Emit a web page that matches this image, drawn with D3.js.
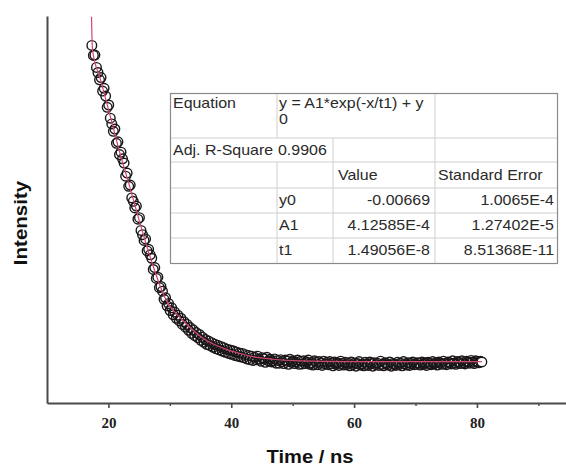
<!DOCTYPE html>
<html>
<head>
<meta charset="utf-8">
<script src="https://cdn.jsdelivr.net/npm/d3@7"></script>
<style>
  html, body { margin: 0; padding: 0; background: #fff; }
  svg { display: block; }
</style>
</head>
<body>
<svg id="chart" width="566" height="466"></svg>
<script>
// Fluorescence decay: measured counts (arbitrary units) per time channel
const timeStart = 17.3;      // ns, first channel shown
const channelWidth = 0.25;   // ns per channel
const intensity = [
  92.4, 89.8, 89.9, 86.7, 85.4, 83.5, 84.1, 80.6, 81.3, 79.3,
  76.4, 77.0, 73.6, 72.1, 70.2, 70.8, 67.1, 67.5, 64.2, 64.8,
  63.1, 62.0, 58.6, 59.4, 56.0, 56.3, 53.0, 52.1, 50.4, 50.9,
  47.5, 47.9, 44.6, 43.5, 42.0, 42.4, 39.3, 39.7, 38.3, 37.4,
  34.5, 35.0, 32.2, 32.5, 29.8, 30.1, 28.9, 26.8, 27.2, 25.1,
  25.7, 23.9, 24.6, 22.8, 23.5, 21.9, 22.7, 21.2, 21.9, 20.3,
  21.0, 19.6, 20.3, 18.8, 19.5, 18.0, 18.9, 17.4, 18.2, 16.9,
  17.7, 16.2, 17.0, 15.7, 16.4, 15.1, 16.0, 14.8, 15.6, 14.4,
  15.2, 14.0, 14.9, 13.7, 14.6, 13.4, 14.3, 13.1, 13.9, 12.8,
  13.7, 12.6, 13.5, 12.3, 13.2, 12.1, 12.9, 11.9, 12.8, 11.7,
  12.5, 11.4, 12.3, 11.2, 12.1, 11.0, 11.8, 11.2, 12.1, 11.3,
  10.8, 11.7, 11.4, 10.5, 11.8, 10.9, 11.3, 10.6, 10.9, 11.4,
  10.3, 11.0, 10.3, 11.2, 10.7, 10.2, 11.1, 10.8, 10.0, 11.3,
  10.5, 10.9, 10.2, 10.6, 11.1, 10.0, 10.8, 10.1, 10.9, 10.2,
  10.6, 11.1, 10.0, 10.4, 9.8, 10.9, 10.5, 9.9, 10.7, 10.3,
  9.7, 10.8, 10.1, 10.5, 9.9, 10.7, 10.2, 9.6, 10.6, 10.0,
  10.4, 9.7, 10.8, 10.2, 9.8, 10.5, 9.9, 10.3, 9.6,
  10.6, 9.9, 10.3, 9.5, 10.2, 10.7, 9.8, 10.1, 9.6, 10.5,
  10.0, 9.7, 10.6, 10.2, 9.5, 10.4, 9.9, 10.3, 9.7, 10.8,
  10.0, 9.6, 10.4, 10.1, 9.8, 10.6, 9.5, 10.2, 10.0, 9.7,
  10.5, 9.9, 10.3, 9.6, 10.7, 10.1, 9.8, 10.4, 9.7, 10.2,
  10.6, 9.9, 10.0, 10.4,
  10.3, 9.8, 10.6, 10.0, 10.4, 9.7, 10.5, 10.2, 9.9, 10.7,
  10.1, 10.4, 9.8, 10.6, 10.3, 10.0, 10.8, 10.2, 9.9, 10.6,
  10.4, 10.1, 10.9, 10.3, 10.0, 10.7, 10.5, 10.2, 10.9, 10.4,
  10.1, 10.8, 10.6, 10.3, 11.0, 10.5, 10.2, 10.9, 10.7, 10.4,
  10.8, 10.6
];

// Exponential fit curve, sampled
const fitTime  = [17.25, 17.4, 18.63, 20.26, 21.56, 23.52, 25.15, 26.29, 27.26, 28.4,
                  29.54, 30.85, 32.15, 33.78, 35.73, 37.69, 39.32, 41.43, 43.06, 46.81,
                  51.21, 59.35, 70.26, 80.8];
const fitValue = [99.8, 91.3, 84.0, 74.4, 66.4, 55.6, 46.4, 40.3, 35.5, 30.3,
                  26.2, 23.4, 21.3, 18.8, 16.4, 14.8, 13.8, 12.8, 12.1, 11.3,
                  10.9, 10.7, 10.7, 10.7];

// Axis ticks
const majorTicks = [20, 40, 60, 80];
const minorTicks = [30, 50, 70, 90];

// Fit report table
const equationLines = ["y = A1*exp(-x/t1) + y", "0"];
const adjRSquare = "0.9906";
const tableHeader = ["Value", "Standard Error"];
const paramNames = ["y0", "A1", "t1"];
const paramValues = ["-0.00669", "4.12585E-4", "1.49056E-8"];
const paramErrors = ["1.0065E-4", "1.27402E-5", "8.51368E-11"];

const svg = d3.select("#chart");

const x = d3.scaleLinear().domain([10, 94.5]).range([47, 566]);
const y = d3.scaleLinear().domain([0, 100]).range([403, 16]);

const axisColor = "#4a4a4a";

// Bottom axis: major ticks with labels, minor ticks without
const gx = svg.append("g").attr("transform", "translate(0,403)");
gx.call(d3.axisBottom(x).tickValues(majorTicks).tickSize(5).tickSizeOuter(0).tickPadding(9));
gx.select(".domain").attr("stroke", axisColor).attr("stroke-width", 2);
gx.selectAll(".tick line").attr("stroke", axisColor).attr("stroke-width", 1.6);
gx.selectAll(".tick text")
  .attr("fill", "#222")
  .style("font-family", "'Liberation Serif', 'Times New Roman', serif")
  .style("font-weight", "bold")
  .style("font-size", "15px");

const gxm = svg.append("g").attr("transform", "translate(0,403)");
gxm.call(d3.axisBottom(x).tickValues(minorTicks).tickSize(3).tickSizeOuter(0).tickFormat(""));
gxm.select(".domain").remove();
gxm.selectAll(".tick line").attr("stroke", axisColor).attr("stroke-width", 1.4);

// Left axis: line only
const gy = svg.append("g").attr("transform", "translate(47,0)");
gy.call(d3.axisLeft(y).tickValues([]).tickSizeOuter(0));
gy.select(".domain").attr("stroke", axisColor).attr("stroke-width", 2);

// Axis titles
svg.append("text")
  .attr("transform", "translate(310,463) scale(1.12,1)")
  .attr("text-anchor", "middle")
  .attr("fill", "#111")
  .style("font-family", "'Liberation Sans', Arial, sans-serif")
  .style("font-weight", "bold")
  .style("font-size", "18px")
  .text("Time / ns");

svg.append("text")
  .attr("transform", "translate(27,223) rotate(-90) scale(1.14,1)")
  .attr("text-anchor", "middle")
  .attr("fill", "#111")
  .style("font-family", "'Liberation Sans', Arial, sans-serif")
  .style("font-weight", "bold")
  .style("font-size", "18px")
  .text("Intensity");

// Measured points: open circles
const points = intensity.map((v, i) => ({ t: timeStart + i * channelWidth, v }));
svg.append("g")
  .selectAll("circle")
  .data(points)
  .join("circle")
  .attr("cx", d => x(d.t))
  .attr("cy", d => y(d.v))
  .attr("r", 4.8)
  .attr("fill", (d, i) => i === points.length - 1 ? "#fff" : "none")
  .attr("stroke", "#1a1618")
  .attr("stroke-width", 1.4);

// Fit curve
const fitData = fitTime.map((t, i) => ({ t, v: fitValue[i] }));
svg.append("path")
  .datum(fitData)
  .attr("fill", "none")
  .attr("stroke", "#d0486e")
  .attr("stroke-width", 1.2)
  .attr("d", d3.line().x(d => x(d.t)).y(d => y(d.v)).curve(d3.curveMonotoneX));

// Fit report table
const tbl = svg.append("g");
const colX = [170, 277, 333, 435, 557];
const rowY = [93, 138, 162, 188, 213, 238, 263];
const gridColor = "#cfcfcf";

tbl.append("rect")
  .attr("x", colX[0]).attr("y", rowY[0])
  .attr("width", colX[4] - colX[0]).attr("height", rowY[6] - rowY[0])
  .attr("fill", "#fff");

// horizontal rules
tbl.selectAll("line.h")
  .data(rowY.slice(1, 6))
  .join("line")
  .attr("x1", colX[0]).attr("x2", colX[4])
  .attr("y1", d => d).attr("y2", d => d)
  .attr("stroke", gridColor).attr("stroke-width", 1);

// vertical rules (segments per column)
const vSegments = [
  { x: colX[1], y1: rowY[0], y2: rowY[1] },
  { x: colX[1], y1: rowY[2], y2: rowY[6] },
  { x: colX[2], y1: rowY[1], y2: rowY[6] },
  { x: colX[3], y1: rowY[0], y2: rowY[6] }
];
tbl.selectAll("line.v")
  .data(vSegments)
  .join("line")
  .attr("x1", d => d.x).attr("x2", d => d.x)
  .attr("y1", d => d.y1).attr("y2", d => d.y2)
  .attr("stroke", gridColor).attr("stroke-width", 1);

tbl.append("rect")
  .attr("x", colX[0] + 0.5).attr("y", rowY[0] + 0.5)
  .attr("width", colX[4] - colX[0]).attr("height", rowY[6] - rowY[0])
  .attr("fill", "none")
  .attr("stroke", "#8a8a8a").attr("stroke-width", 1.2);

function cell(text, px, py, anchor) {
  tbl.append("text")
    .attr("transform", `translate(${px},${py}) scale(1.14,1)`)
    .attr("text-anchor", anchor || "start")
    .attr("fill", "#2a2a2a")
    .style("font-family", "'Liberation Sans', Arial, sans-serif")
    .style("font-size", "14px")
    .text(text);
}

cell("Equation", 173, 108);
cell(equationLines[0], 279, 108);
cell(equationLines[1], 279, 124);
cell("Adj. R-Square", 173, 155);
cell(adjRSquare, 278, 155);
cell(tableHeader[0], 338, 180);
cell(tableHeader[1], 438, 180);
const rowBase = [205, 230, 255];
paramNames.forEach((n, i) => {
  cell(n, 279, rowBase[i]);
  cell(paramValues[i], 430, rowBase[i], "end");
  cell(paramErrors[i], 554, rowBase[i], "end");
});
</script>
</body>
</html>
